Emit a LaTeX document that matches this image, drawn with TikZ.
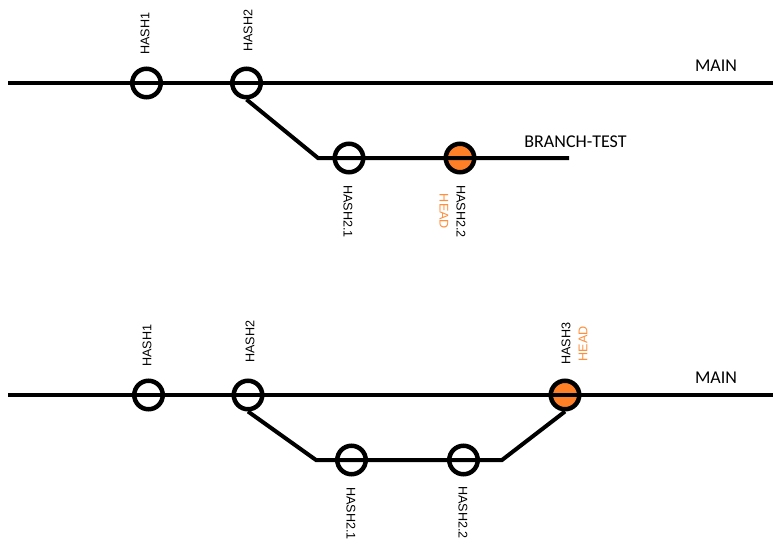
\documentclass[tikz,border=0pt]{standalone}
\usepackage{fontspec}
\setmainfont{Liberation Sans}
\newfontfamily\branchfont{Carlito}
\usetikzlibrary{positioning}
\definecolor{commitorange}{RGB}{255,127,39}
\definecolor{headorange}{RGB}{255,140,55}

\begin{document}
\begin{tikzpicture}[
        x=1pt, y=-1pt,
        commit/.style={circle, draw=black, line width=4.5pt, fill=white, minimum size=28.5pt, inner sep=0pt},
        headcommit/.style={commit, fill=commitorange},
        hashlabel/.style={anchor=west, inner sep=0pt, align=center, font=\fontsize{12.6}{17}\selectfont},
        hashup/.style={hashlabel, rotate=90},
        hashdown/.style={hashlabel, rotate=-90},
        branchname/.style={anchor=base, inner sep=0pt, font=\branchfont\fontsize{18}{21}\selectfont},
        track/.style={line width=4pt}
    ]
    \useasboundingbox (0,0) rectangle (784,557);

    % before merge
    \coordinate (m1s) at (8,83);
    \coordinate (m1e) at (773,83);
    \coordinate (k1) at (318,158);
    \coordinate (b1e) at (569,158);
    \node[commit] (h1) at (146.5,83) {};
    \node[commit] (h2) at (246.5,83) {};
    \node[commit] (h21) at (349,158) {};
    \node[headcommit] (h22) at (460,158) {};
    \draw[track] (m1s) -- (m1e);
    \draw[track] (h2.south) -- (k1) -- (b1e);

    \node[hashup] (l1) at (145,55) {HASH1};
    \node[hashup] (l2) at (248,52) {HASH2};
    \node[hashdown] (l21) at (348,185) {HASH2.1};
    \node[hashdown] (l22) at (452.5,185) {HASH2.2\\\textcolor{headorange}{HEAD}};
    \node[branchname] (main1) at (716,71) {MAIN};
    \node[branchname] (test1) at (575.5,147) {BRANCH-TEST};

    % after merge
    \coordinate (m2s) at (8,395);
    \coordinate (m2e) at (773,395);
    \coordinate (k2) at (316,460);
    \coordinate (k3) at (502,460);
    \node[commit] (g1) at (148.5,395) {};
    \node[commit] (g2) at (248,395) {};
    \node[headcommit] (g3) at (565,395) {};
    \node[commit] (g21) at (351.5,460) {};
    \node[commit] (g22) at (463.5,460) {};
    \draw[track] (m2s) -- (m2e);
    \draw[track] (g2.south) -- (k2) -- (k3) -- (g3.south);

    \node[hashup] (n1) at (147,367) {HASH1};
    \node[hashup] (n2) at (250,363) {HASH2};
    \node[hashup] (n3) at (574.5,365) {HASH3\\\textcolor{headorange}{HEAD}};
    \node[hashdown] (n21) at (351,487) {HASH2.1};
    \node[hashdown] (n22) at (463,486) {HASH2.2};
    \node[branchname] (main2) at (716,383) {MAIN};
\end{tikzpicture}
\end{document}
